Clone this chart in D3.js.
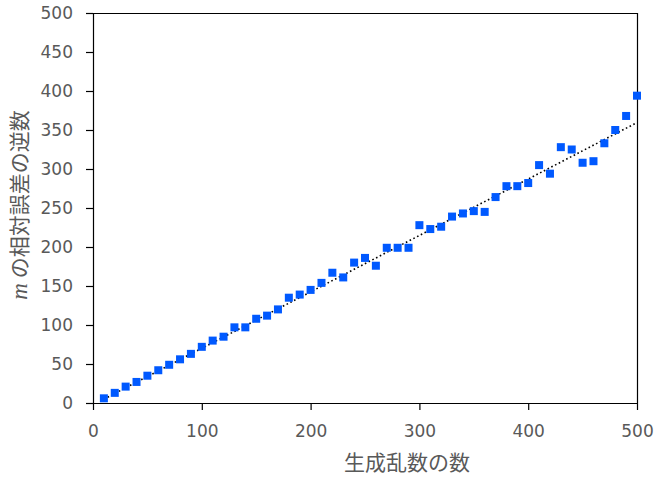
<!DOCTYPE html>
<html><head><meta charset="utf-8">
<script src="https://cdn.jsdelivr.net/npm/d3@7/dist/d3.min.js"></script>
<style>body{margin:0;background:#fff;} svg{display:block;}</style>
</head><body>
<script>
const xValues = [10,20,30,40,50,60,70,80,90,100,110,120,130,140,150,160,170,180,190,200,
  210,220,230,240,250,260,270,280,290,300,310,320,330,340,350,360,370,380,390,400,
  410,420,430,440,450,460,470,480,490,500];
const yValues = [6,13,21,27,35,42,49,56,63,72,80,85,97,97,108,112,120,135,139,145,
  154,167,161,180,186,176,199,199,199,228,223,226,239,243,246,245,264,278,278,282,
  305,294,328,325,308,310,333,350,368,394];
const trendX = [10, 500];
const trendY = [5, 359.5];
const xTicks = [0,100,200,300,400,500];
const yTicks = [0,50,100,150,200,250,300,350,400,450,500];
const xTitle = "生成乱数の数";
const yTitleVar = "m";
const yTitleRest = " の相対誤差の逆数";

const W = 657, H = 477;
const L = 93, R = 637, T = 13, B = 403;
const svg = d3.select("body").append("svg").attr("width", W).attr("height", H);
const x = d3.scaleLinear().domain([0,500]).range([L,R]);
const y = d3.scaleLinear().domain([0,500]).range([B,T]);
const grey = "#595959";

// frame
svg.append("line").attr("x1",L).attr("x2",R).attr("y1",T+0.5).attr("y2",T+0.5).attr("stroke","#000").attr("stroke-width",1.2);
svg.append("line").attr("x1",R+0.5).attr("x2",R+0.5).attr("y1",T).attr("y2",B).attr("stroke","#000").attr("stroke-width",1.2);

const xAxis = svg.append("g").attr("transform",`translate(0,${B})`)
  .call(d3.axisBottom(x).tickValues(xTicks).tickSize(7).tickSizeOuter(0).tickPadding(12));
const yAxis = svg.append("g").attr("transform",`translate(${L},0)`)
  .call(d3.axisLeft(y).tickValues(yTicks).tickSize(7).tickSizeOuter(0).tickPadding(13));
[xAxis,yAxis].forEach(g=>{
  g.selectAll("path,line").attr("stroke","#000").attr("stroke-width",1.2);
  g.selectAll("text").attr("fill",grey).style("font-family","'DejaVu Sans'").style("font-size","17px");
});
xAxis.selectAll("text").attr("dy","0.9em");

// trend line
svg.append("line")
  .attr("x1",x(trendX[0])).attr("y1",y(trendY[0]))
  .attr("x2",x(trendX[1])).attr("y2",y(trendY[1]))
  .attr("stroke","#000").attr("stroke-width",1.6).attr("stroke-dasharray","1.6,2.6");

// markers
const s = 8;
svg.append("g").selectAll("rect").data(xValues).join("rect")
  .attr("x",(d)=>x(d)-s/2).attr("y",(d,i)=>y(yValues[i])-s/2)
  .attr("width",s).attr("height",s).attr("fill","#0059ff");

// titles
svg.append("text").attr("x",407).attr("y",470).attr("text-anchor","middle")
  .attr("fill",grey).style("font-family","'Noto Sans CJK JP'").style("font-size","21px").text(xTitle);
const yt = svg.append("text").attr("transform","translate(27,205) rotate(-90)").attr("text-anchor","middle")
  .attr("fill",grey).style("font-family","'Noto Sans CJK JP'").style("font-size","21px");
yt.append("tspan").style("font-family","'Liberation Serif'").style("font-style","italic").style("font-size","23px").text(yTitleVar);
yt.append("tspan").text(yTitleRest);
</script>
</body></html>
